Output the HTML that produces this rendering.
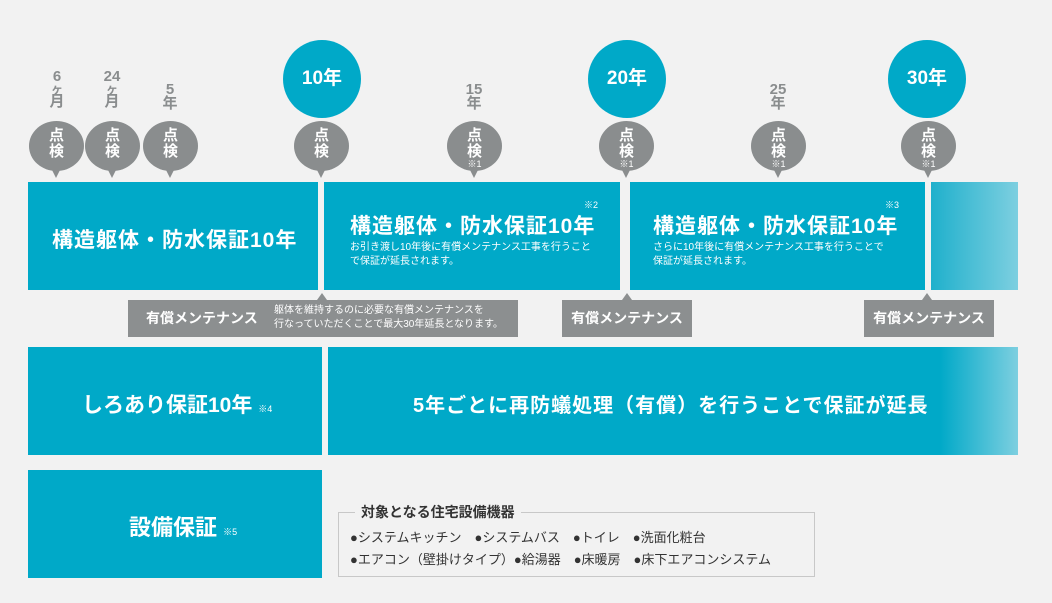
<!DOCTYPE html>
<html><head><meta charset="utf-8"><style>
*{margin:0;padding:0;box-sizing:border-box}
body{width:1052px;height:603px;background:#f2f2f2;position:relative;overflow:hidden;font-family:"Liberation Sans","Noto Sans CJK JP",sans-serif}
.a{position:absolute}
.blue{background:#00a9c8;color:#fff}
.big{border-radius:50%;background:#00a9c8;color:#fff;font-weight:bold;font-size:19px;text-align:center;line-height:78px;width:78px;height:78px}
.bub{width:55px;height:50px;border-radius:50%;background:#8a8d8e;color:#fff;font-weight:bold;font-size:15px;line-height:16px;text-align:center;padding-top:7px}
.bub:after{content:"";position:absolute;left:23px;bottom:-7px;border-left:4px solid transparent;border-right:4px solid transparent;border-top:8px solid #8a8d8e}
.bub small{display:block;font-size:9px;font-weight:normal;line-height:9px}
.lbl{color:#8a8d8e;font-weight:bold;font-size:15px;line-height:14px;text-align:center;width:40px}
.lbl s{text-decoration:none;font-size:12px;display:block;line-height:11px}
.gray{background:#8c8f90;color:#fff;font-weight:bold;font-size:14px;line-height:37px;height:37px}
.up{position:absolute;top:-7px;border-left:5px solid transparent;border-right:5px solid transparent;border-bottom:7px solid #8c8f90;width:0;height:0}
.t1{font-weight:bold;font-size:21px;letter-spacing:1px}
.sm{font-size:10px;line-height:14px}
</style></head><body>
<div class="a lbl" style="left:37px;top:70px">6<s>ヶ</s>月</div>
<div class="a lbl" style="left:92px;top:70px">24<s>ヶ</s>月</div>
<div class="a lbl" style="left:150px;top:83px">5<br>年</div>
<div class="a lbl" style="left:454px;top:83px">15<br>年</div>
<div class="a lbl" style="left:758px;top:83px">25<br>年</div>
<div class="a big" style="left:283px;top:40px">10年</div>
<div class="a big" style="left:588px;top:40px">20年</div>
<div class="a big" style="left:888px;top:40px">30年</div>
<div class="a bub" style="left:29px;top:121px">点<br>検</div>
<div class="a bub" style="left:85px;top:121px">点<br>検</div>
<div class="a bub" style="left:143px;top:121px">点<br>検</div>
<div class="a bub" style="left:294px;top:121px">点<br>検</div>
<div class="a bub" style="left:447px;top:121px">点<br>検<small>※1</small></div>
<div class="a bub" style="left:599px;top:121px">点<br>検<small>※1</small></div>
<div class="a bub" style="left:751px;top:121px">点<br>検<small>※1</small></div>
<div class="a bub" style="left:901px;top:121px">点<br>検<small>※1</small></div>
<div class="a blue" style="left:28px;top:182px;width:290px;height:108px"><div class="a t1" style="left:24px;top:42px">構造躯体・防水保証10年</div></div>
<div class="a blue" style="left:324px;top:182px;width:296px;height:108px">
<div class="a" style="left:260px;top:16px;font-size:9px">※2</div>
<div class="a t1" style="left:26px;top:28px">構造躯体・防水保証10年</div>
<div class="a sm" style="left:26px;top:59px">お引き渡し10年後に有償メンテナンス工事を行うこと<br>で保証が延長されます。</div></div>
<div class="a blue" style="left:630px;top:182px;width:295px;height:108px">
<div class="a" style="left:255px;top:16px;font-size:9px">※3</div>
<div class="a t1" style="left:23px;top:28px">構造躯体・防水保証10年</div>
<div class="a sm" style="left:23px;top:59px">さらに10年後に有償メンテナンス工事を行うことで<br>保証が延長されます。</div></div>
<div class="a" style="left:931px;top:182px;width:87px;height:108px;background:linear-gradient(90deg,#1fb0cc,#7dcfe0)"></div>
<div class="a gray" style="left:128px;top:300px;width:390px"><div class="up" style="left:189px"></div><span style="margin-left:18px">有償メンテナンス</span>
<div class="a sm" style="left:146px;top:4px;font-weight:normal;font-size:10px">躯体を維持するのに必要な有償メンテナンスを<br>行なっていただくことで最大30年延長となります。</div></div>
<div class="a gray" style="left:562px;top:300px;width:130px;text-align:center"><div class="up" style="left:60px"></div>有償メンテナンス</div>
<div class="a gray" style="left:864px;top:300px;width:130px;text-align:center"><div class="up" style="left:58px"></div>有償メンテナンス</div>
<div class="a blue" style="left:28px;top:347px;width:294px;height:108px"><div class="a" style="left:54px;top:42px;font-weight:bold;font-size:21px">しろあり保証10年 <span style="font-size:9px;font-weight:normal">※4</span></div></div>
<div class="a" style="left:328px;top:347px;width:690px;height:108px;background:linear-gradient(90deg,#00a9c8 0,#00a9c8 612px,#7dcfe0 100%);color:#fff"><div class="a" style="left:85px;top:42px;font-weight:bold;font-size:20px;letter-spacing:1px;white-space:nowrap">5年ごとに再防蟻処理（有償）を行うことで保証が延長</div></div>
<div class="a blue" style="left:28px;top:470px;width:294px;height:108px"><div class="a" style="left:101px;top:40px;font-weight:bold;font-size:22px">設備保証 <span style="font-size:9px;font-weight:normal">※5</span></div></div>
<div class="a" style="left:338px;top:512px;width:477px;height:65px;border:1px solid #c8c8c8"></div>
<div class="a" style="left:355px;top:502px;background:#f2f2f2;padding:0 6px;font-weight:bold;font-size:14px;color:#333">対象となる住宅設備機器</div>
<div class="a" style="left:350px;top:527px;font-size:13px;color:#333;line-height:22px;white-space:nowrap">●システムキッチン　●システムバス　●トイレ　●洗面化粧台<br>●エアコン（壁掛けタイプ）●給湯器　●床暖房　●床下エアコンシステム</div>
</body></html>
